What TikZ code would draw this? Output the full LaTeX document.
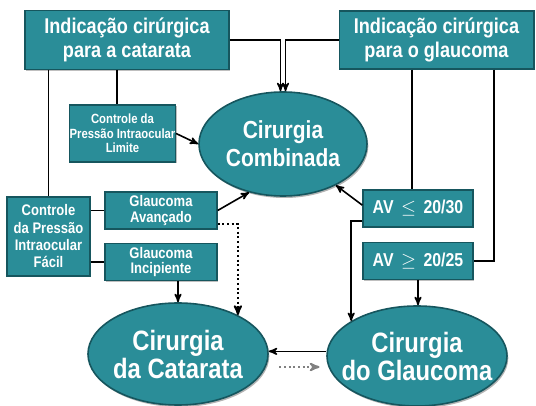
\documentclass[tikz,border=0pt]{standalone}
\usepackage{fontspec}
\setmainfont{Liberation Sans}[FakeStretch=0.85]
\usetikzlibrary{shapes.geometric,shadows}
\usetikzlibrary{arrows,positioning}
\definecolor{tealclaro}{RGB}{42,141,152}
\definecolor{tealescuro}{RGB}{22,86,94}
\tikzset{
    %Define standard arrow tip
    >=stealth',
    %Define style for boxes
    caixa/.style={
           rectangle,
           draw = tealescuro, line width = 1pt,
           fill = tealclaro, text = white,
           align = center, inner sep = 0pt,
           drop shadow = {shadow xshift = 1pt, shadow yshift = -1pt, opacity = 0.5},
           font = \bfseries\fontsize{16}{18}\selectfont},
    caixap/.style={
           caixa,
           font = \bfseries\fontsize{11.5}{11.5}\selectfont},
    caixaav/.style={
           caixa,
           font = \bfseries\fontsize{14}{14}\selectfont},
    elipse/.style={
           ellipse,
           draw = tealescuro, line width = 1.2pt,
           fill = tealclaro, text = white,
           align = center, inner sep = -12pt,
           drop shadow = {shadow xshift = 1pt, shadow yshift = -1.5pt, opacity = 0.6}},
    % Define arrow style
    liga/.style={
           line width = 1.2pt},
    seta/.style={
           ->,
           line width = 1.2pt},
    pontos/.style={
           ->, dotted,
           line width = 1.5pt},
    pontoscinza/.style={
           ->, dotted, gray,
           line width = 1.5pt}
}
\begin{document}
\begin{tikzpicture}[x=0.75pt, y=-0.75pt]
\useasboundingbox (0,0) rectangle (536,406);
 %nodes
\node[caixa, minimum width = 153pt, minimum height = 44pt] (indcat) at (127,40)
	{Indicação cirúrgica\\para a catarata};
\node[caixa, minimum width = 146pt, minimum height = 43.5pt] (indglau) at (436.5,40)
	{Indicação cirúrgica\\para o glaucoma};
\node[caixa, minimum width = 75.75pt, minimum height = 42.75pt,
	font = \bfseries\fontsize{10}{11}\selectfont] (limite) at (122.5,133.5)
	{Controle da\\Pressão Intraocular\\Limite};
\node[caixap, minimum width = 62.25pt, minimum height = 59.25pt,
	font = \bfseries\fontsize{11.5}{13}\selectfont] (facil) at (48.5,236.5)
	{Controle\\da Pressão\\Intraocular\\Fácil};
\node[caixap, minimum width = 84pt, minimum height = 27.75pt] (avanc) at (161,210.5)
	{Glaucoma\\Avançado};
\node[caixap, minimum width = 84pt, minimum height = 27.75pt, below = 9.75pt of avanc] (incip)
	{Glaucoma\\Incipiente};
\node[caixaav, minimum width = 82.5pt, minimum height = 27.75pt] (avle) at (418,208.5)
	{AV \,$\leq$\, 20/30};
\node[caixaav, minimum width = 82.5pt, minimum height = 27.75pt, below = 10.5pt of avle] (avge)
	{AV \,$\geq$\, 20/25};
\node[elipse, minimum width = 126pt, minimum height = 78pt,
	font = \bfseries\fontsize{18.5}{21}\selectfont] (comb) at (283,144)
	{Cirurgia\\Combinada};
\node[elipse, minimum width = 135pt, minimum height = 76.5pt,
	font = \bfseries\fontsize{21}{21}\selectfont] (catarata) at (178,354)
	{Cirurgia\\da Catarata};
\node[elipse, minimum width = 135pt, minimum height = 75pt,
	font = \bfseries\fontsize{21}{21}\selectfont] (glauc) at (417,356)
	{Cirurgia\\do Glaucoma};
 %connectors
\draw[seta] (indcat.east) -| ([xshift = -1.9pt]comb.north);
\draw[seta] (indglau.west) -| ([xshift = 1.9pt]comb.north);
\draw[liga] (facil.north |- indcat.south) -- (facil.north);
\draw[liga] ([xshift = -4pt]limite.north |- indcat.south) -- ([xshift = -4pt]limite.north);
\draw[seta] (limite.east) -- (comb.west);
\draw[liga] (facil.east |- avanc.west) -- (avanc.west);
\draw[liga] (facil.east |- incip.west) -- (incip.west);
\draw[seta] (avanc.east) -- (comb.235);
\draw[pontos] ([yshift = -10pt]avanc.east) -| (catarata.33);
\draw[seta] (incip.south -| catarata.north) -- (catarata.north);
\draw[liga] ([xshift = -4.5pt]avle.north |- indglau.south) -- ([xshift = -4.5pt]avle.north);
\draw[liga] ([xshift = 43pt]indglau.south) |- (avge.east);
\draw[seta] ([yshift = 2.5pt]avle.west) -- (comb.-38);
\draw[seta] ([yshift = -9.4pt]avle.west) -| (glauc.152);
\draw[seta] (avge.south) -- (avge.south |- glauc.north);
\draw[seta] ([yshift = 3.5pt]glauc.west) -- ([yshift = 3.5pt]glauc.west -| catarata.east);
\draw[pontoscinza, shorten < = 8pt, shorten > = 5pt]
	([yshift = -9.75pt]catarata.east) -- ([yshift = -9.75pt]catarata.east -| glauc.west);
\end{tikzpicture}
\end{document}
